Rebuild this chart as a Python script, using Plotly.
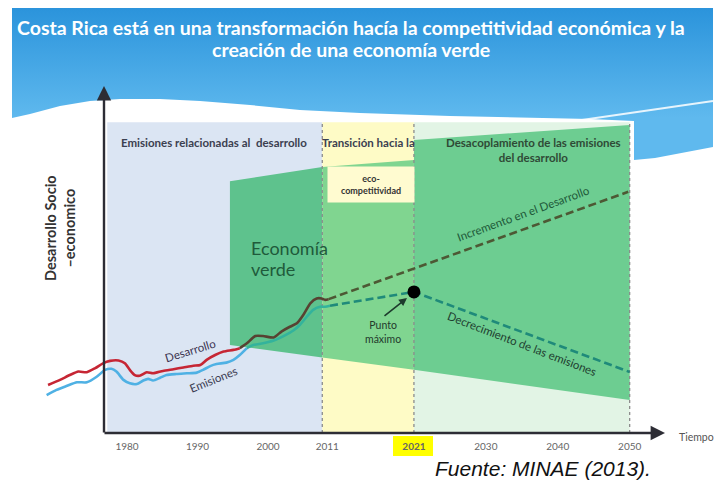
import numpy as np
import plotly.graph_objects as go

# ---------------------------------------------------------------
# Calibration of the schematic (reference pixels -> axis units)
# The page body has an 8px default margin, so the figure is drawn
# 8px smaller and every reference pixel is shifted by OFF.
# ---------------------------------------------------------------
OFF = 8
W, H = 725 - OFF, 485 - OFF
PX_PER_YEAR = 7.05      # horizontal scale
X_REF_PX = 127          # reference pixel of the 1980 tick
AXIS_PX = 433           # reference pixel row of the time axis
PX_PER_UNIT = 3.45      # vertical scale


def ux(px):
    return 1980 + (px - X_REF_PX) / PX_PER_YEAR


def uy(py):
    return (AXIS_PX - py) / PX_PER_UNIT


def xp(px):
    return (px - OFF) / W


def yp(py):
    return 1 - (py - OFF) / H


# ---------------------------------------------------------------
# Data (schematic time position, index value)
# ---------------------------------------------------------------
tick_pos = [1980, 1990, 2000, 2008.4, 2020.7, 2030.9, 2041.1, 2051.3]
tick_text = ["1980", "1990", "2000", "2011", "<b>2021</b>", "2030", "2040", "2050"]

region_edges = [1977.2, 2007.7, 2020.7, 2051.3]   # 2011, 2021, 2050 boundaries
region_top = 90.1
region_colors = ["#dbe5f3", "#fefbc6", "#e2f4e5"]

band_x = [[1994.6, 2007.7], [2007.7, 2020.7], [2020.7, 2051.3]]
band_top = [[73.0, 77.1], [77.1, 79.1], [84.9, 89.3]]
band_bottom = [[25.5, 21.9], [21.9, 18.3], [18.3, 9.6]]
band_colors = ["#5ec28d", "#80d590", "#6dcd91"]

t_dev = [1968.8, 1970.5, 1971.9, 1973.1, 1974.3, 1975.5, 1976.6, 1977.6, 1978.8,
         1979.7, 1980.4, 1981.1, 1981.8, 1982.8, 1983.7, 1985.1, 1986.6, 1988.0,
         1989.4, 1990.4, 1991.3, 1992.5, 1993.7, 1995.1, 1996.0, 1997.0, 1998.2,
         1999.3, 2000.8, 2001.9, 2003.1, 2004.1, 2005.0, 2006.0, 2006.9, 2007.6,
         2008.1, 2008.6]
desarrollo = [13.9, 15.4, 16.8, 17.8, 17.6, 18.8, 20.2, 20.9, 21.0, 20.2, 18.3,
              16.8, 16.6, 17.6, 17.3, 18.0, 18.5, 19.0, 19.5, 19.7, 21.2, 22.6,
              23.6, 24.1, 24.6, 26.0, 28.1, 28.1, 27.7, 29.4, 30.8, 31.8, 34.2,
              37.6, 39.0, 39.0, 38.6, 38.8]

t_em = [1968.6, 1970.0, 1971.4, 1972.9, 1974.3, 1975.7, 1976.9, 1977.8, 1978.5,
        1979.5, 1980.4, 1981.4, 1982.3, 1983.0, 1983.7, 1984.7, 1985.6, 1987.0,
        1988.5, 1989.9, 1990.8, 1991.8, 1992.7, 1994.1, 1995.1, 1996.0, 1997.0,
        1997.9, 1999.3, 2000.8, 2002.2, 2003.6, 2004.5, 2005.5, 2006.4, 2007.4,
        2008.1, 2008.8]
emisiones = [11.0, 12.5, 13.6, 14.7, 14.7, 16.3, 18.3, 18.6, 17.8, 15.4, 14.4,
             14.2, 15.2, 15.7, 15.2, 16.0, 16.8, 17.1, 17.3, 17.5, 18.3, 19.4,
             20.0, 20.4, 21.2, 22.6, 24.6, 25.5, 26.0, 26.8, 28.1, 29.7, 31.3,
             33.7, 35.7, 36.6, 36.6, 36.9]

t_dev_proj = [2008.6, 2051.1]
dev_proj = [38.8, 69.9]
t_em_proj = [2008.8, 2020.7, 2051.3]
em_proj = [36.9, 40.9, 17.7]
peak_t, peak_v = [2020.7], [40.9]

# header decoration outline (reference pixels)
header_px = [(12, 6), (713, 6), (713, 147), (680, 153), (655, 158), (634, 160),
             (634, 121), (590, 119), (450, 116), (360, 113), (300, 110),
             (250, 105), (200, 101), (160, 99), (120, 99), (90, 101), (60, 106),
             (30, 114), (12, 118), (12, 6)]

FONT = "Lato"

fig = go.Figure()

# header with vertical gradient
fig.add_trace(go.Scatter(
    x=[ux(p[0]) for p in header_px], y=[uy(p[1]) for p in header_px],
    mode="lines", fill="toself", line=dict(width=0),
    fillgradient=dict(type="vertical", start=uy(118), stop=uy(6),
                      colorscale=[[0, "#5fb9ee"], [1, "#2a93db"]]),
    hoverinfo="skip", showlegend=False))
fig.add_trace(go.Scatter(
    x=[ux(575), ux(713)], y=[uy(121), uy(101)], mode="lines",
    line=dict(color="rgba(255,255,255,0.85)", width=2),
    hoverinfo="skip", showlegend=False))

# green economy band
for bx, bt, bb, col in zip(band_x, band_top, band_bottom, band_colors):
    fig.add_trace(go.Scatter(
        x=[bx[0], bx[1], bx[1], bx[0], bx[0]],
        y=[bt[0], bt[1], bb[1], bb[0], bt[0]],
        mode="lines", fill="toself", fillcolor=col, line=dict(width=0),
        hoverinfo="skip", showlegend=False))

# dotted period boundaries (2011, 2021, 2050)
for xe in region_edges[1:]:
    fig.add_trace(go.Scatter(
        x=[xe, xe], y=[0, region_top], mode="lines",
        line=dict(color="#8c8c8c", width=1.3, dash="dot"),
        hoverinfo="skip", showlegend=False))

edge_x = [band_x[0][0]] + [b[1] for b in band_x]
edge_bottom = [band_bottom[0][0]] + [b[1] for b in band_bottom]


def split_at_band(t, v):
    t = np.asarray(t)
    v = np.asarray(v)
    inside = (t >= edge_x[0]) & (v >= np.interp(t, edge_x, edge_bottom))
    i = int(np.argmax(inside))
    return (t[:i], v[:i]), (t[i - 1:], v[i - 1:])


(dev_a, dev_b) = split_at_band(t_dev, desarrollo)
(em_a, em_b) = split_at_band(t_em, emisiones)

LW = 2.6
fig.add_trace(go.Scatter(x=em_a[0], y=em_a[1], mode="lines",
                         line=dict(color="#4fb1e4", width=LW, shape="spline", smoothing=0.6),
                         hoverinfo="skip", showlegend=False))
fig.add_trace(go.Scatter(x=em_b[0], y=em_b[1], mode="lines",
                         line=dict(color="#33b39c", width=LW, shape="spline", smoothing=0.6),
                         hoverinfo="skip", showlegend=False))
fig.add_trace(go.Scatter(x=dev_a[0], y=dev_a[1], mode="lines",
                         line=dict(color="#c62634", width=LW, shape="spline", smoothing=0.6),
                         hoverinfo="skip", showlegend=False))
fig.add_trace(go.Scatter(x=dev_b[0], y=dev_b[1], mode="lines",
                         line=dict(color="#574232", width=LW, shape="spline", smoothing=0.6),
                         hoverinfo="skip", showlegend=False))

fig.add_trace(go.Scatter(x=t_dev_proj, y=dev_proj, mode="lines",
                         line=dict(color="#4d5834", width=LW, dash="8px,4px"),
                         hoverinfo="skip", showlegend=False))
fig.add_trace(go.Scatter(x=t_em_proj, y=em_proj, mode="lines",
                         line=dict(color="#1f8a7a", width=LW, dash="8px,4px"),
                         hoverinfo="skip", showlegend=False))
fig.add_trace(go.Scatter(x=peak_t, y=peak_v, mode="markers",
                         marker=dict(color="black", size=13),
                         hoverinfo="skip", showlegend=False))

shapes = []
for x0, x1, col in zip(region_edges[:-1], region_edges[1:], region_colors):
    shapes.append(dict(type="rect", xref="x", yref="y", x0=x0, x1=x1, y0=0,
                       y1=region_top, fillcolor=col, line=dict(width=0), layer="below"))
# highlight for 2021 tick
shapes.append(dict(type="rect", xref="x", yref="paper", x0=ux(393), x1=ux(433),
                   y0=yp(456), y1=yp(436), fillcolor="#ffff00",
                   line=dict(width=0), layer="below"))

ann = []
# axes arrows
ann.append(dict(x=ux(104), y=uy(86), ax=ux(104), ay=uy(434), xref="x", yref="y",
                axref="x", ayref="y", text="", showarrow=True, arrowhead=2,
                arrowsize=1.2, arrowwidth=2.4, arrowcolor="#2d2d35"))
ann.append(dict(x=ux(665), y=uy(433), ax=ux(103), ay=uy(433), xref="x", yref="y",
                axref="x", ayref="y", text="", showarrow=True, arrowhead=2,
                arrowsize=1.2, arrowwidth=2.4, arrowcolor="#2d2d35"))


def label(px, py, text, size, color, angle=0, bold=False, align="center",
          xanchor="center", family=FONT, italic=False, **kw):
    if bold:
        text = "<b>" + text.replace("<br>", "</b><br><b>") + "</b>"
    if italic:
        text = "<i>" + text + "</i>"
    d = dict(x=xp(px), y=yp(py), xref="paper", yref="paper", text=text,
             showarrow=False, textangle=angle, align=align, xanchor=xanchor,
             yanchor="middle", font=dict(size=size, color=color, family=family))
    d.update(kw)
    ann.append(d)


# title
label(351, 28, "Costa Rica está en una transformación hacía la competitividad económica y la",
      19.5, "white", bold=True)
label(351, 50, "creación de una economía verde", 19.5, "white", bold=True)
# y label
label(60, 228, "Desarrollo Socio<br>–economico", 14.5, "#333333", angle=-90, bold=True)
# region headers
label(214, 143, "Emisiones relacionadas al  desarrollo", 11.5, "#3b4050", bold=True)
label(368, 143, "Transición hacia la", 11.5, "#3b4050", bold=True)
label(533, 150, "Desacoplamiento de las emisiones<br>del desarrollo", 11.5, "#2f4a36", bold=True)
label(370.5, 185, "eco-<br>competitividad", 9, "#333333", bold=True,
      bgcolor="#fffbd0", width=84, height=33)
label(249, 248, "Economía", 18, "#1f5a3b", xanchor="left")
label(249, 269, "verde", 18, "#1f5a3b", xanchor="left")
label(190, 350, "Desarrollo", 11.5, "#3a3350", angle=-17)
label(213, 379, "Emisiones", 11.5, "#3a3a50", angle=-22)
label(523, 213, "Incremento en el Desarrollo", 11.5, "#1e5a3a", angle=-20)
label(522, 343, "Decrecimiento de las emisiones", 11.5, "#1f4030", angle=21)
label(383, 332, "Punto<br>máximo", 10.5, "#233a2c")
label(696, 437, "Tiempo", 10.5, "#555555")
label(543, 468, "Fuente: MINAE (2013).", 21, "#111111", family="Liberation Sans", italic=True)
# arrow to the peak
ann.append(dict(x=ux(407), y=uy(298), ax=ux(383), ay=uy(317), xref="x", yref="y",
                axref="x", ayref="y", text="", showarrow=True, arrowhead=2,
                arrowsize=1, arrowwidth=1.6, arrowcolor="#1d3b2c"))

fig.update_layout(
    width=W, height=H, autosize=False,
    margin=dict(l=0, r=0, t=0, b=0),
    paper_bgcolor="white", plot_bgcolor="white",
    showlegend=False,
    shapes=shapes, annotations=ann,
    xaxis=dict(domain=[0, 1], range=[ux(OFF), ux(OFF + W)], tickmode="array",
               tickvals=tick_pos, ticktext=tick_text, ticks="",
               ticklabelstandoff=6, showgrid=False, zeroline=False,
               showline=False, fixedrange=True,
               tickfont=dict(family=FONT, size=10, color="#666666")),
    yaxis=dict(domain=[yp(AXIS_PX), 1], range=[0, uy(OFF)], visible=False,
               showgrid=False, zeroline=False, fixedrange=True),
)

fig.write_html("out.html")
